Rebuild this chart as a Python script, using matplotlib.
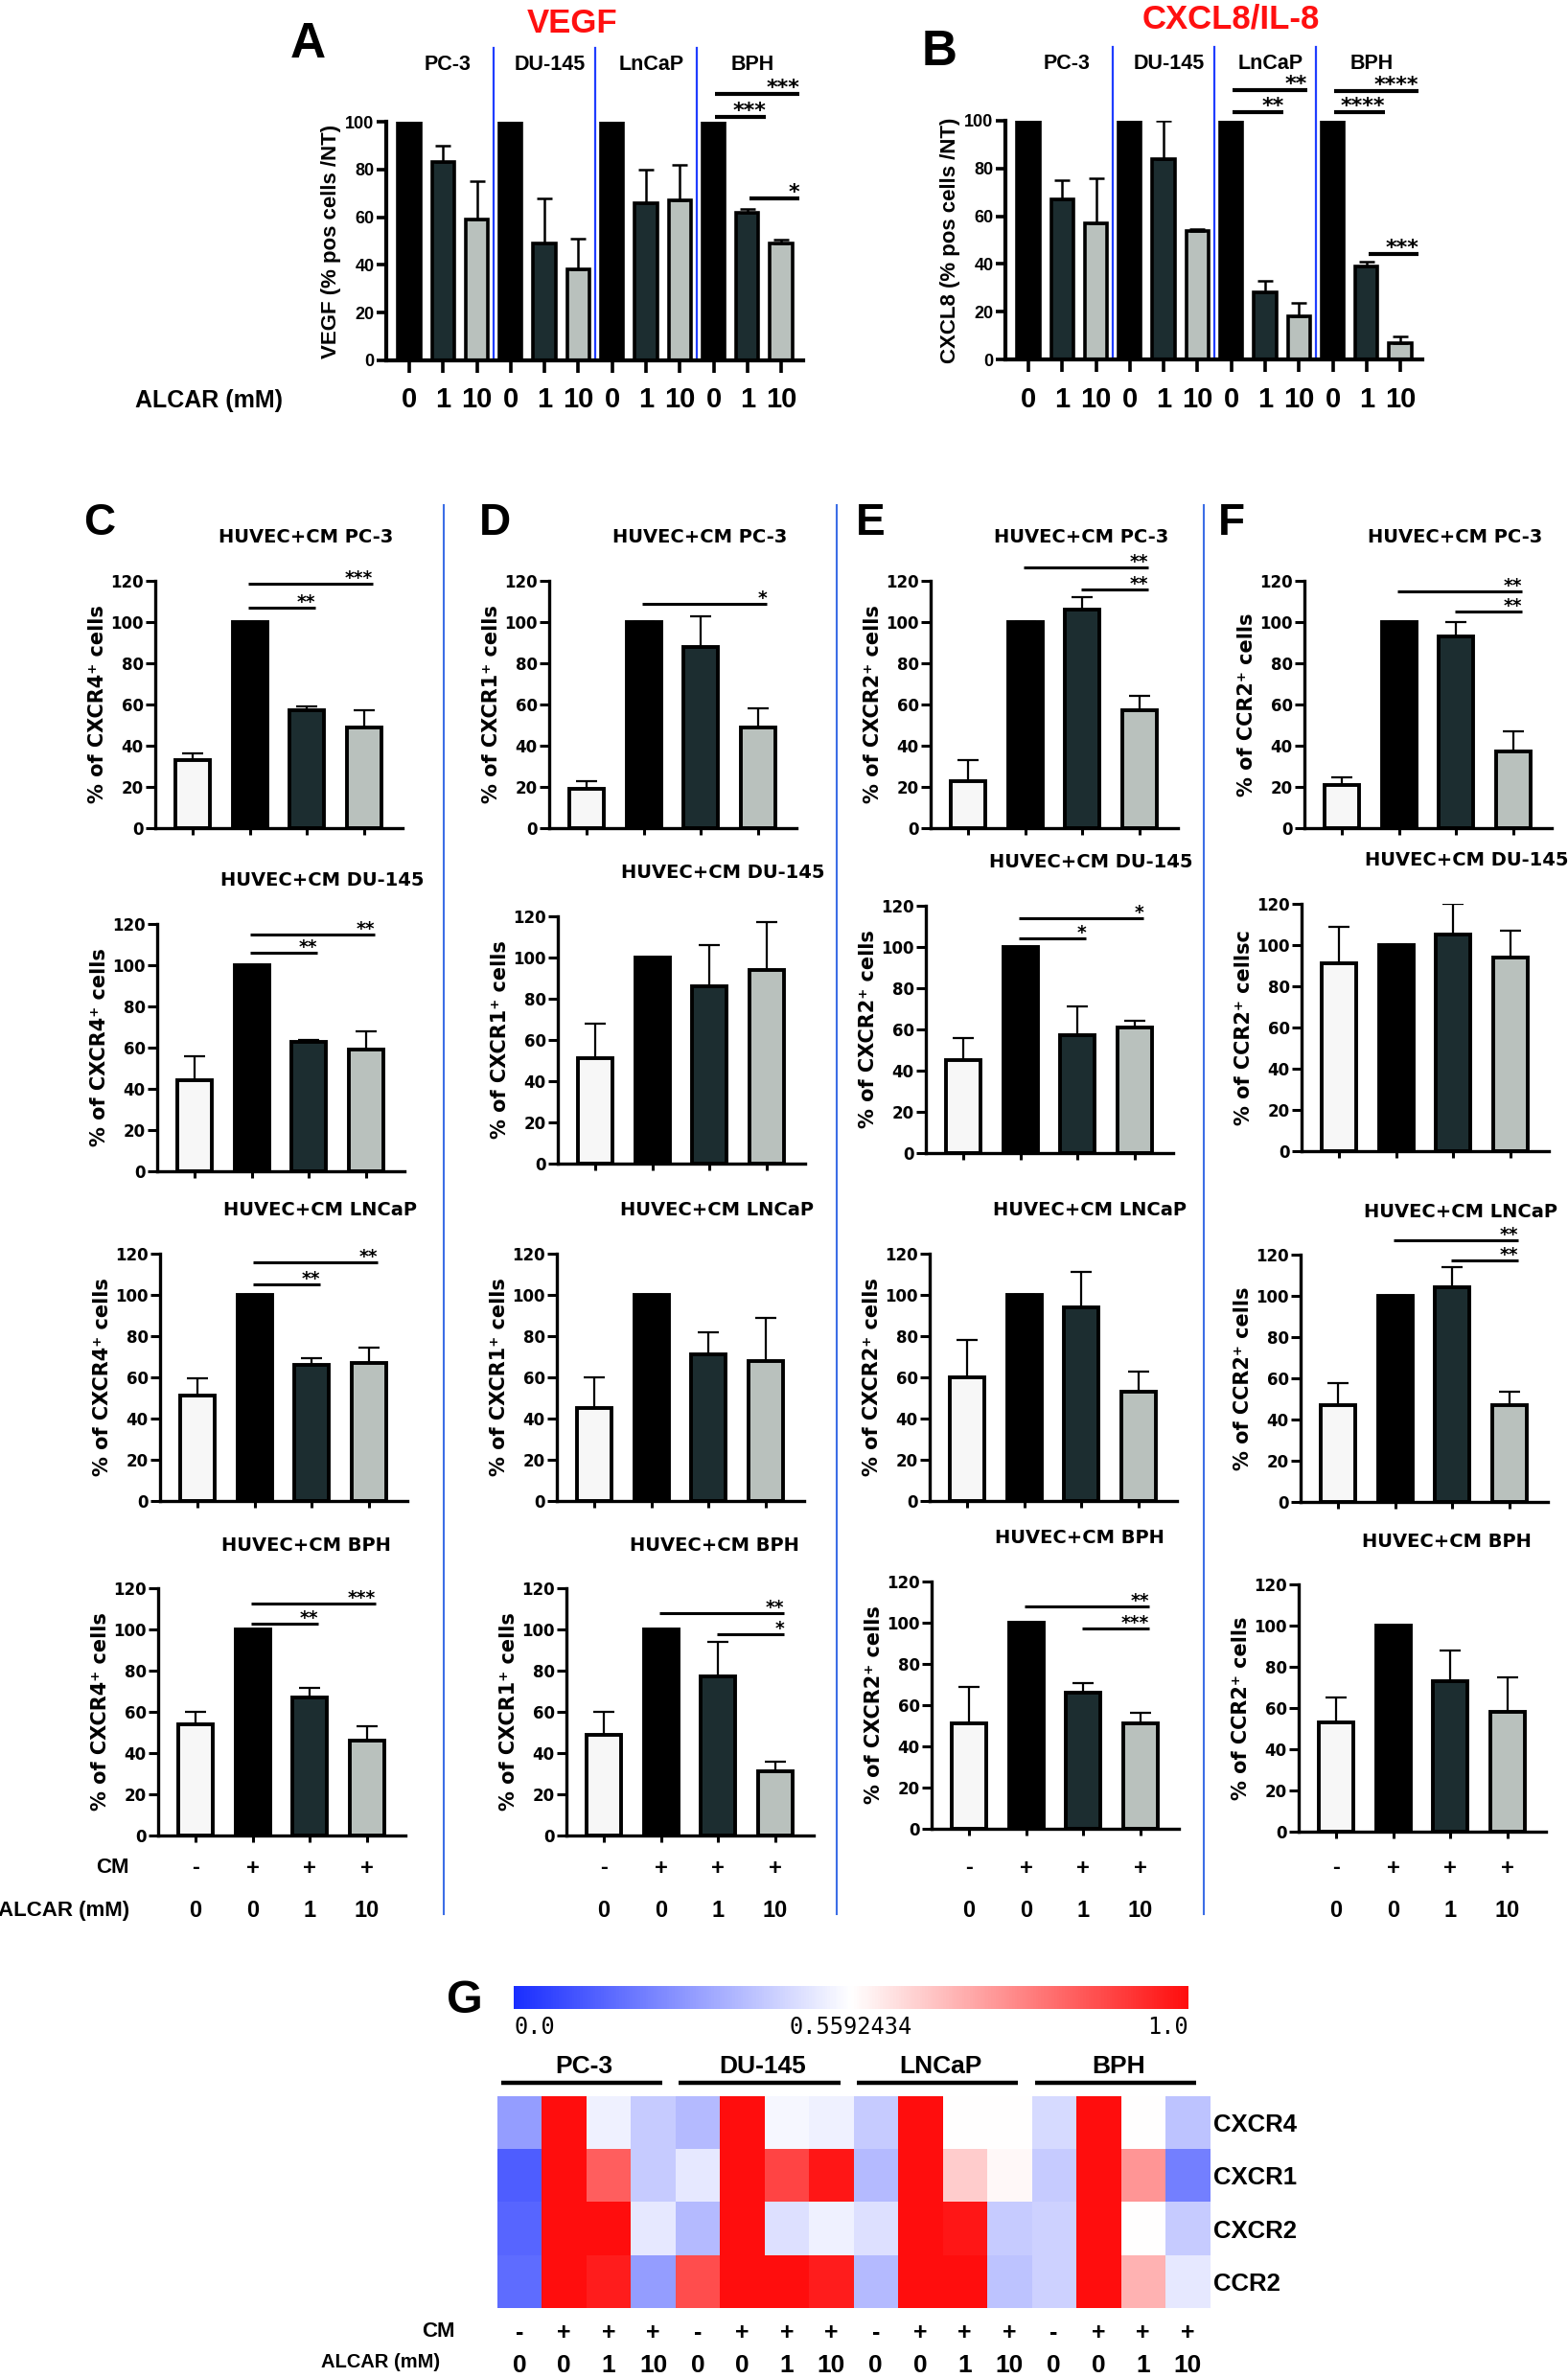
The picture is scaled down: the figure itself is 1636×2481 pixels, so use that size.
import numpy as np
import matplotlib
matplotlib.use("Agg")
from matplotlib import pyplot as plt
from matplotlib import transforms
from matplotlib.lines import Line2D
from matplotlib.cm import ScalarMappable
from matplotlib.colors import LinearSegmentedColormap, TwoSlopeNorm

W, H = 1636, 2481

# ---- panels A / B : % positive cells over untreated
ab_lines = ["PC-3", "DU-145", "LnCaP", "BPH"]
ab_doses = ["0", "1", "10"]
vegf = [100, 83, 59, 100, 49, 38, 100, 66, 67, 100, 62, 49]
vegf_sd = [0, 7, 16, 0, 19, 13, 0, 14, 15, 0, 1.5, 1.5]
vegf_sig = [(9, 11, 111.5, "***"), (9, 10, 102, "***"), (10, 11, 68, "*")]
cxcl8 = [100, 67, 57, 100, 84, 54, 100, 28, 18, 100, 39, 7]
cxcl8_sd = [0, 8, 19, 0, 16, 0.5, 0, 5, 5.5, 0, 2, 2.5]
cxcl8_sig = [(6, 8, 113, "**"), (6, 7, 103.5, "**"), (9, 11, 112.5, "****"),
             (9, 10, 103.5, "****"), (10, 11, 44, "***")]

# ---- panels C-F : HUVEC + conditioned medium
cm_from = ["PC-3", "DU-145", "LNCaP", "BPH"]
cm_signs = ["-", "+", "+", "+"]
cm_doses = ["0", "0", "1", "10"]
receptors = ["CXCR4", "CXCR1", "CXCR2", "CCR2"]

cxcr4 = [[33, 100, 57, 49], [44, 100, 63, 59], [51, 100, 66, 67], [54, 100, 67, 46]]
cxcr4_sd = [[3.5, 0, 2, 8], [12, 0, 0.5, 9], [8.5, 0, 3.5, 7.5], [6, 0, 4.5, 7]]
cxcr4_sig = [[(1, 3, 118.5, "***"), (1, 2, 107, "**")],
             [(1, 3, 115, "**"), (1, 2, 106, "**")],
             [(1, 3, 116, "**"), (1, 2, 105, "**")],
             [(1, 3, 112.5, "***"), (1, 2, 103, "**")]]
cxcr1 = [[19, 100, 88, 49], [51, 100, 86, 94], [45, 100, 71, 68], [49, 100, 77, 31]]
cxcr1_sd = [[4, 0, 15, 9], [17, 0, 20, 23], [15, 0, 11, 21], [11, 0, 17, 5]]
cxcr1_sig = [[(1, 3, 109, "*")], [], [], [(1, 3, 108, "**"), (2, 3, 97.5, "*")]]
cxcr2 = [[23, 100, 106, 57], [45, 100, 57, 61], [60, 100, 94, 53], [51, 100, 66, 51]]
cxcr2_sd = [[10, 0, 6, 7], [11, 0, 14, 3], [18, 0, 17, 10], [18, 0, 4.5, 5.5]]
cxcr2_sig = [[(1, 3, 126.5, "**"), (2, 3, 116, "**")],
             [(1, 3, 114, "*"), (1, 2, 104, "*")],
             [],
             [(1, 3, 108, "**"), (2, 3, 97, "***")]]
ccr2 = [[21, 100, 93, 37], [91, 100, 105, 94], [47, 100, 104, 47], [53, 100, 73, 58]]
ccr2_sd = [[3.5, 0, 7, 10], [18, 0, 15, 13], [10.5, 0, 10, 6.5], [12, 0, 15, 17]]
ccr2_sig = [[(1, 3, 115, "**"), (2, 3, 105, "**")], [],
            [(1, 3, 127, "**"), (2, 3, 117, "**")], []]

# ---- panel G : heatmap
hm_cxcr4 = [0.30, 1.0, 0.52, 0.42, 0.38, 1.0, 0.54, 0.52, 0.42, 1.0, 0.56, 0.56, 0.46, 1.0, 0.56, 0.40]
hm_cxcr1 = [0.13, 1.0, 0.85, 0.42, 0.50, 1.0, 0.90, 0.98, 0.38, 1.0, 0.65, 0.57, 0.42, 1.0, 0.75, 0.22]
hm_cxcr2 = [0.15, 1.0, 1.0, 0.50, 0.38, 1.0, 0.48, 0.52, 0.48, 1.0, 0.98, 0.42, 0.44, 1.0, 0.56, 0.42]
hm_ccr2 = [0.17, 1.0, 0.97, 0.30, 0.88, 1.0, 1.0, 0.97, 0.38, 1.0, 1.0, 0.40, 0.44, 1.0, 0.70, 0.50]
hm_center = 0.5592434

plt.rcParams["font.family"] = "DejaVu Sans"
fig = plt.figure(figsize=(W / 100, H / 100), dpi=100)

ARIAL = dict(family="Liberation Sans", weight="bold")
DJB = dict(family="DejaVu Sans", weight="bold")


def px_axes(left, top, right, bottom):
    return fig.add_axes([left / W, 1 - bottom / H, (right - left) / W, (bottom - top) / H])


def fig_text(x, y, s, **kw):
    fig.text(x / W, 1 - y / H, s, **kw)


def fig_vline(x, y0, y1, **kw):
    fig.add_artist(Line2D([x / W, x / W], [1 - y0 / H, 1 - y1 / H], transform=fig.transFigure, **kw))


def row_text(ax, xs, y, labels, **kw):
    tr = transforms.blended_transform_factory(ax.transData, fig.transFigure)
    for x, s in zip(xs, labels):
        ax.text(x, 1 - y / H, s, transform=tr, ha="center", va="center", **kw)


def style_axes(ax, lw):
    for s in ("top", "right"):
        ax.spines[s].set_visible(False)
    for s in ("left", "bottom"):
        ax.spines[s].set_linewidth(lw)


# ---------------- A / B
ab_colors = ["black", "#1c2d30", "#b9c1bd"] * 4


def draw_ab(ax, vals, sd, sig, ylabel):
    x = np.arange(len(vals))
    ax.bar(x, vals, width=0.66, color=ab_colors, edgecolor="black", linewidth=2.6, zorder=2)
    ax.errorbar(x, vals, yerr=[np.zeros(len(sd)), sd], fmt="none", ecolor="black",
                elinewidth=1.8, capsize=6, capthick=1.8, zorder=3)
    ax.set_xlim(-0.68, 11.65)
    ax.set_ylim(0, 100)
    ax.set_xticks(x)
    ax.set_xticklabels([])
    yt = list(range(0, 101, 20))
    ax.set_yticks(yt)
    ax.set_yticklabels([str(t) for t in yt], fontsize=13, **ARIAL)
    ax.tick_params(axis="x", direction="out", length=9, width=2.6)
    ax.tick_params(axis="y", direction="out", length=7, width=2.6, pad=2)
    style_axes(ax, 3)
    ax.set_ylabel(ylabel, fontsize=16, labelpad=3, **ARIAL)
    for b in (2.5, 5.5, 8.5):
        ax.plot([b, b], [1, 131], color="#1f3dff", lw=1.6, clip_on=False, zorder=1)
    for g, name in enumerate(ab_lines):
        ax.text(3 * g + 1.15, 124, name, ha="center", va="center", fontsize=15.5, clip_on=False, **ARIAL)
    for i, j, y, s in sig:
        end = j + 0.55
        if j // 3 < 3:
            end = min(end, 3 * (j // 3) + 2.25)
        ax.plot([i + 0.05, end], [y, y], color="black", lw=3, clip_on=False, solid_capstyle="butt")
        ax.text(end, y, s, ha="right", va="baseline", fontsize=16, clip_on=False, **DJB)
    row_text(ax, x, 417, ab_doses * 4, fontsize=21, **ARIAL)


axA = px_axes(403, 127, 838, 376)
draw_ab(axA, vegf, vegf_sd, vegf_sig, "VEGF (% pos cells /NT)")
axB = px_axes(1049, 126, 1484, 375)
draw_ab(axB, cxcl8, cxcl8_sd, cxcl8_sig, "CXCL8 (% pos cells /NT)")

fig_text(597, 25, "VEGF", color="#ff1010", fontsize=25, ha="center", va="center", **ARIAL)
fig_text(1284, 20, "CXCL8/IL-8", color="#ff1010", fontsize=25, ha="center", va="center", **ARIAL)
fig_text(321, 47, "A", fontsize=37, ha="center", va="center", **ARIAL)
fig_text(980, 55, "B", fontsize=37, ha="center", va="center", **ARIAL)
fig_text(218, 418, "ALCAR (mM)", fontsize=18, ha="center", va="center", **ARIAL)

# ---------------- C - F
grid_colors = ["#f7f7f7", "black", "#1c2d30", "#b9c1bd"]
SP = 59.7
first_bar = [[201, 203, 206, 204], [612, 621, 620, 630], [1010, 1005, 1009, 1011], [1400, 1397, 1396, 1394]]
zero_y = [[864, 1222, 1566, 1915], [864, 1214, 1566, 1915], [864, 1203, 1566, 1908], [864, 1201, 1567, 1911]]

panels = [(cxcr4, cxcr4_sd, cxcr4_sig), (cxcr1, cxcr1_sd, cxcr1_sig),
          (cxcr2, cxcr2_sd, cxcr2_sig), (ccr2, ccr2_sd, ccr2_sig)]

for c, (means, sds, sigs) in enumerate(panels):
    for r in range(4):
        c0, y0 = first_bar[c][r], zero_y[c][r]
        ax = px_axes(c0 - 0.65 * SP, y0 - 258, c0 + 3.67 * SP, y0)
        x = np.arange(4)
        ax.bar(x, means[r], width=0.6, color=grid_colors, edgecolor="black", linewidth=2.8, zorder=2)
        ax.errorbar(x, means[r], yerr=[np.zeros(4), sds[r]], fmt="none", ecolor="black",
                    elinewidth=1.6, capsize=8, capthick=1.6, zorder=3)
        ax.set_xlim(-0.65, 3.67)
        ax.set_ylim(0, 120)
        ax.set_xticks(x)
        ax.set_xticklabels([])
        yt = list(range(0, 121, 20))
        ax.set_yticks(yt)
        ax.set_yticklabels([str(t) for t in yt], fontsize=12, **DJB)
        ax.tick_params(axis="x", direction="out", length=5, width=2.2)
        ax.tick_params(axis="y", direction="out", length=7, width=2.2, pad=2)
        style_axes(ax, 2.4)
        lab = "% of " + receptors[c] + "\u207a cells"
        if c == 3 and r == 1:
            lab += "c"
        ax.set_ylabel(lab, fontsize=15, labelpad=2, **DJB)
        tr = transforms.blended_transform_factory(ax.transData, ax.transAxes)
        ax.annotate("HUVEC+CM " + cm_from[r], xy=(0.45, 1), xycoords=tr, xytext=(0, 45 * 0.72),
                    textcoords="offset points", ha="left", va="center", fontsize=14, **DJB)
        for i, j, y, s in sigs[r]:
            ax.plot([i - 0.03, j + 0.15], [y, y], color="black", lw=2.2, clip_on=False, solid_capstyle="butt")
            ax.text(j + 0.15, y, s, ha="right", va="baseline", fontsize=13.5, clip_on=False, **DJB)
        if r == 3:
            row_text(ax, x, 1949, cm_signs, fontsize=17, **ARIAL)
            row_text(ax, x, 1994, cm_doses, fontsize=17, **ARIAL)

fig_text(117, 1949, "CM", fontsize=16, ha="center", va="center", **ARIAL)
fig_text(67, 1994, "ALCAR (mM)", fontsize=16, ha="center", va="center", **ARIAL)
for letter, lx in zip("CDEF", (104, 516, 908, 1285)):
    fig_text(lx, 546, letter, fontsize=33, ha="center", va="center", **ARIAL)
for sx in (463, 873, 1256):
    fig_vline(sx, 527, 1997, color="#3c6ee6", lw=1.5)

# ---------------- G heatmap
cmap = LinearSegmentedColormap.from_list("bwr_g", ["#1a2eff", "#ffffff", "#ff0d0d"])
norm = TwoSlopeNorm(vcenter=hm_center, vmin=0.0, vmax=1.0)
hm = np.array([hm_cxcr4, hm_cxcr1, hm_cxcr2, hm_ccr2])

axh = px_axes(519, 2187, 1262, 2408)
axh.imshow(hm, cmap=cmap, norm=norm, aspect="auto", interpolation="nearest")
for g, name in enumerate(cm_from):
    axh.plot([4 * g - 0.42, 4 * g + 3.2], [-0.75, -0.75], color="black", lw=3.2,
             clip_on=False, solid_capstyle="butt")
    axh.text(4 * g + 1.45, -1.07, name, ha="center", va="center", fontsize=19, **ARIAL)
axh.set_xlim(-0.5, 15.5)
axh.set_ylim(3.5, -0.5)
axh.set_xticks([])
axh.set_yticks(range(4))
axh.set_yticklabels(receptors, fontsize=18.5, **ARIAL)
axh.yaxis.tick_right()
axh.tick_params(axis="y", length=0, pad=3)
for s in axh.spines.values():
    s.set_visible(False)
cols = np.arange(16)
row_text(axh, cols, 2434, cm_signs * 4, fontsize=18, **ARIAL)
row_text(axh, cols, 2468, cm_doses * 4, fontsize=19, **ARIAL)
fig_text(457, 2432, "CM", fontsize=16, ha="center", va="center", **ARIAL)
fig_text(459, 2465, "ALCAR (mM)", fontsize=14.5, ha="right", va="center", **ARIAL)
fig_text(485, 2087, "G", fontsize=35, ha="center", va="center", **ARIAL)

cax = px_axes(536, 2072, 1240, 2096)
cb = fig.colorbar(ScalarMappable(norm=norm, cmap=cmap), cax=cax, orientation="horizontal")
cb.outline.set_visible(False)
cb.set_ticks([])
cax.minorticks_off()
for xf, s, ha in ((0, "0.0", "left"), (0.5, "0.5592434", "center"), (1, "1.0", "right")):
    cax.text(xf, -0.8, s, transform=cax.transAxes, ha=ha, va="center",
             family="DejaVu Sans Mono", fontsize=17)

fig.savefig("out.png", dpi=100)
